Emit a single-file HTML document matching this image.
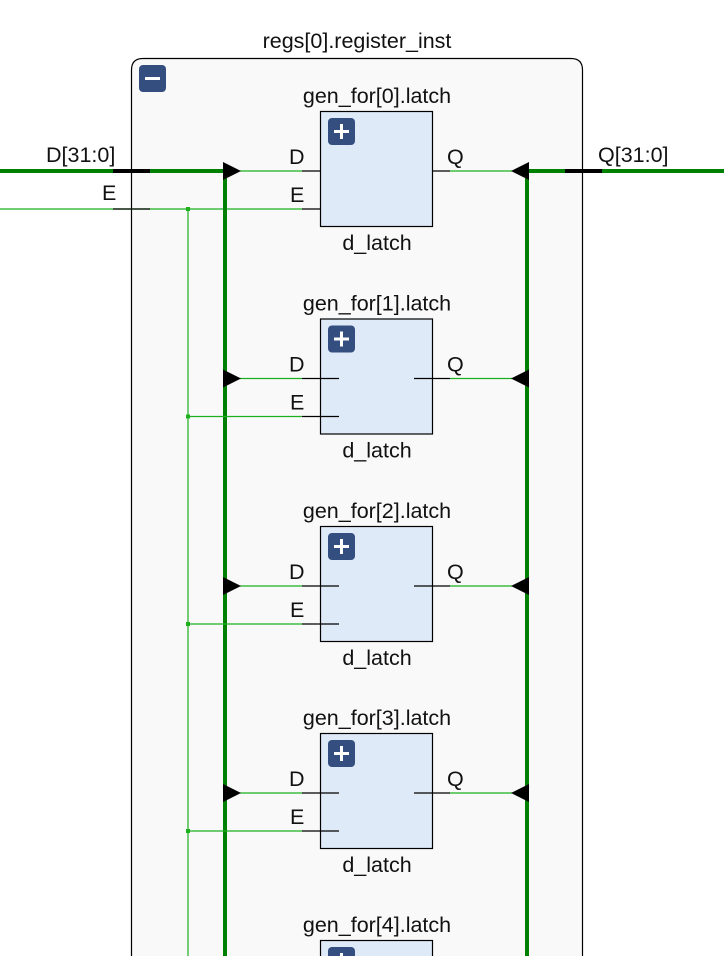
<!DOCTYPE html>
<html><head><meta charset="utf-8"><style>
html,body{margin:0;padding:0;background:#fff;width:724px;height:956px;overflow:hidden;}
svg{display:block;}
text{font-family:"Liberation Sans",sans-serif;font-size:21.5px;fill:#111;}
</style></head><body>
<svg width="724" height="956" viewBox="0 0 724 956" xmlns="http://www.w3.org/2000/svg">
<!-- outer box -->
<path d="M131.5 956 L131.5 70 Q131.5 58.5 143 58.5 L571 58.5 Q582.5 58.5 582.5 70 L582.5 956" fill="#f9f9f9" stroke="#000" stroke-width="1.2"/>
<text x="357" y="48" text-anchor="middle">regs[0].register_inst</text>
<rect x="139" y="65" width="27" height="27" rx="4" fill="#344e80"/>
<rect x="145" y="77" width="15" height="3" fill="#fff"/>

<!-- external D -->
<line x1="0" y1="171" x2="225" y2="171" stroke="#008000" stroke-width="4"/>
<line x1="113" y1="171" x2="150" y2="171" stroke="#000" stroke-width="4"/>
<text x="46" y="162">D[31:0]</text>
<!-- external E -->
<line x1="0" y1="209" x2="302" y2="209" stroke="#1db01d" stroke-width="1.2"/>
<line x1="113" y1="209" x2="150" y2="209" stroke="#000" stroke-width="1.2"/>
<line x1="302" y1="209" x2="320" y2="209" stroke="#000" stroke-width="1.2"/>
<text x="102" y="200">E</text>
<!-- external Q -->
<line x1="526" y1="171" x2="724" y2="171" stroke="#008000" stroke-width="4"/>
<line x1="565" y1="171" x2="602" y2="171" stroke="#000" stroke-width="4"/>
<text x="598" y="162">Q[31:0]</text>

<!-- E vertical -->
<line x1="188" y1="209" x2="188" y2="956" stroke="#1db01d" stroke-width="1.2"/>
<!-- buses -->
<line x1="225" y1="171" x2="225" y2="956" stroke="#008000" stroke-width="4"/>
<line x1="527" y1="171" x2="527" y2="956" stroke="#008000" stroke-width="4"/>

<!-- block 0 -->
<rect x="186" y="207" width="4" height="4" fill="#1db01d"/>
<line x1="240" y1="171" x2="302" y2="171" stroke="#1db01d" stroke-width="1.2"/>
<line x1="302" y1="171" x2="320" y2="171" stroke="#000" stroke-width="1.2"/>
<line x1="433" y1="171" x2="450" y2="171" stroke="#000" stroke-width="1.2"/>
<line x1="450" y1="171" x2="512" y2="171" stroke="#1db01d" stroke-width="1.2"/>
<polygon points="223,162 241,171 223,180" fill="#000"/>
<polygon points="529,162 511,171 529,180" fill="#000"/>
<rect x="320.5" y="111.5" width="112" height="115" fill="#dfeaf8" stroke="#000" stroke-width="1.2"/>
<rect x="328" y="118" width="27" height="27" rx="4" fill="#344e80"/>
<rect x="334" y="130" width="15" height="3" fill="#fff"/><rect x="340" y="124" width="3" height="15" fill="#fff"/>
<text x="377" y="103" text-anchor="middle">gen_for[0].latch</text>
<text x="377" y="250" text-anchor="middle">d_latch</text>
<text x="289" y="164">D</text><text x="290" y="202">E</text><text x="447" y="164">Q</text>

<g transform="translate(0,207.5)">
<rect x="186" y="207" width="4" height="4" fill="#1db01d"/>
<line x1="188" y1="209" x2="302" y2="209" stroke="#1db01d" stroke-width="1.2"/>
<line x1="240" y1="171" x2="302" y2="171" stroke="#1db01d" stroke-width="1.2"/>
<line x1="450" y1="171" x2="512" y2="171" stroke="#1db01d" stroke-width="1.2"/>
<polygon points="223,162 241,171 223,180" fill="#000"/>
<polygon points="529,162 511,171 529,180" fill="#000"/>
<rect x="320.5" y="111.5" width="112" height="115" fill="#dfeaf8" stroke="#000" stroke-width="1.2"/>
<line x1="302" y1="171" x2="339" y2="171" stroke="#000" stroke-width="1.2"/>
<line x1="302" y1="209" x2="339" y2="209" stroke="#000" stroke-width="1.2"/>
<line x1="414" y1="171" x2="450" y2="171" stroke="#000" stroke-width="1.2"/>
<rect x="328" y="118" width="27" height="27" rx="4" fill="#344e80"/>
<rect x="334" y="130" width="15" height="3" fill="#fff"/><rect x="340" y="124" width="3" height="15" fill="#fff"/>
<text x="377" y="103" text-anchor="middle">gen_for[1].latch</text>
<text x="377" y="250" text-anchor="middle">d_latch</text>
<text x="289" y="164">D</text><text x="290" y="202">E</text><text x="447" y="164">Q</text>
</g>
<g transform="translate(0,415)">
<rect x="186" y="207" width="4" height="4" fill="#1db01d"/>
<line x1="188" y1="209" x2="302" y2="209" stroke="#1db01d" stroke-width="1.2"/>
<line x1="240" y1="171" x2="302" y2="171" stroke="#1db01d" stroke-width="1.2"/>
<line x1="450" y1="171" x2="512" y2="171" stroke="#1db01d" stroke-width="1.2"/>
<polygon points="223,162 241,171 223,180" fill="#000"/>
<polygon points="529,162 511,171 529,180" fill="#000"/>
<rect x="320.5" y="111.5" width="112" height="115" fill="#dfeaf8" stroke="#000" stroke-width="1.2"/>
<line x1="302" y1="171" x2="339" y2="171" stroke="#000" stroke-width="1.2"/>
<line x1="302" y1="209" x2="339" y2="209" stroke="#000" stroke-width="1.2"/>
<line x1="414" y1="171" x2="450" y2="171" stroke="#000" stroke-width="1.2"/>
<rect x="328" y="118" width="27" height="27" rx="4" fill="#344e80"/>
<rect x="334" y="130" width="15" height="3" fill="#fff"/><rect x="340" y="124" width="3" height="15" fill="#fff"/>
<text x="377" y="103" text-anchor="middle">gen_for[2].latch</text>
<text x="377" y="250" text-anchor="middle">d_latch</text>
<text x="289" y="164">D</text><text x="290" y="202">E</text><text x="447" y="164">Q</text>
</g>
<g transform="translate(0,622)">
<rect x="186" y="207" width="4" height="4" fill="#1db01d"/>
<line x1="188" y1="209" x2="302" y2="209" stroke="#1db01d" stroke-width="1.2"/>
<line x1="240" y1="171" x2="302" y2="171" stroke="#1db01d" stroke-width="1.2"/>
<line x1="450" y1="171" x2="512" y2="171" stroke="#1db01d" stroke-width="1.2"/>
<polygon points="223,162 241,171 223,180" fill="#000"/>
<polygon points="529,162 511,171 529,180" fill="#000"/>
<rect x="320.5" y="111.5" width="112" height="115" fill="#dfeaf8" stroke="#000" stroke-width="1.2"/>
<line x1="302" y1="171" x2="339" y2="171" stroke="#000" stroke-width="1.2"/>
<line x1="302" y1="209" x2="339" y2="209" stroke="#000" stroke-width="1.2"/>
<line x1="414" y1="171" x2="450" y2="171" stroke="#000" stroke-width="1.2"/>
<rect x="328" y="118" width="27" height="27" rx="4" fill="#344e80"/>
<rect x="334" y="130" width="15" height="3" fill="#fff"/><rect x="340" y="124" width="3" height="15" fill="#fff"/>
<text x="377" y="103" text-anchor="middle">gen_for[3].latch</text>
<text x="377" y="250" text-anchor="middle">d_latch</text>
<text x="289" y="164">D</text><text x="290" y="202">E</text><text x="447" y="164">Q</text>
</g>
<g transform="translate(0,829)">
<rect x="320.5" y="111.5" width="112" height="115" fill="#dfeaf8" stroke="#000" stroke-width="1.2"/>
<rect x="328" y="118" width="27" height="27" rx="4" fill="#344e80"/>
<rect x="334" y="130" width="15" height="3" fill="#fff"/><rect x="340" y="124" width="3" height="15" fill="#fff"/>
<text x="377" y="103" text-anchor="middle">gen_for[4].latch</text>
</g>
</svg>
</body></html>
